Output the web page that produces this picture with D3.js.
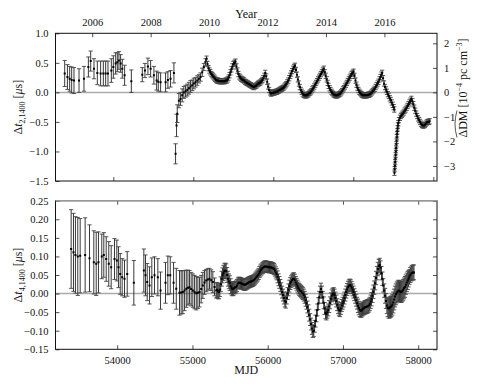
<!DOCTYPE html>
<html><head><meta charset="utf-8">
<script src="https://cdn.jsdelivr.net/npm/d3@7"></script>
<style>
body{margin:0;background:#fff;}
text{font-family:"Liberation Serif","DejaVu Serif",serif;fill:#111;}
</style></head><body>
<svg id="c" width="482" height="385"></svg>
<script>
// ---------- DATA ----------
// Top panel: Δt_{2,1400} [μs] — sparse early epochs (MJD, value, error)
const topMjd = [53392,53426,53454,53479,53508,53571,53633,53688,53717,53758,53800,53841,53875,53904,53933,53975,54000,54029,54050,54070,54091,54112,54141,54225,
54362,54395,54432,54466,54507,54541,54562,54591,54653,54682,54715,54757,54778,54790,54799,54819,54840,54861,54881,54903,54924,54945,54965,54986,55006,55028,55049,55070,55090,55111,55131,55152];
const topVal = [0.32,0.26,0.23,0.21,0.20,0.20,0.23,0.43,0.53,0.40,0.33,0.32,0.32,0.32,0.32,0.37,0.43,0.49,0.51,0.54,0.49,0.40,0.29,0.19,
0.30,0.37,0.44,0.40,0.29,0.20,0.18,0.17,0.17,0.21,0.23,0.33,-1.04,-0.56,-0.36,-0.14,-0.11,-0.05,0.00,0.02,0.04,0.07,0.10,0.12,0.15,0.17,0.20,0.23,0.26,0.34,0.43,0.51];
const topErr = [0.22,0.21,0.21,0.22,0.22,0.20,0.21,0.17,0.17,0.17,0.20,0.21,0.21,0.21,0.21,0.20,0.19,0.18,0.16,0.15,0.15,0.16,0.17,0.19,
0.12,0.12,0.14,0.14,0.15,0.16,0.16,0.16,0.16,0.14,0.14,0.17,0.17,0.19,0.15,0.12,0.11,0.11,0.10,0.10,0.10,0.10,0.10,0.09,0.09,0.08,0.08,0.07,0.07,0.07,0.06,0.06];
// Top panel: dense later epochs [MJD, value]
const topDense = [[55165,0.57],[55177,0.48],[55189,0.41],[55201,0.37],[55213,0.34],[55225,0.31],[55237,0.29],[55249,0.27],[55261,0.25],[55273,0.23],[55285,0.21],[55297,0.20],[55309,0.20],[55321,0.19],[55333,0.19],[55345,0.19],[55357,0.19],[55369,0.19],[55381,0.19],[55393,0.19],[55405,0.20],[55417,0.20],[55429,0.22],[55441,0.25],[55453,0.29],[55465,0.34],[55477,0.39],[55489,0.44],[55501,0.48],[55513,0.50],[55527,0.52],
[55539,0.44],[55551,0.37],[55563,0.31],[55575,0.27],[55587,0.25],[55599,0.23],[55611,0.22],[55623,0.21],[55635,0.20],[55647,0.18],[55659,0.17],[55671,0.16],[55683,0.15],[55695,0.14],[55707,0.13],[55719,0.12],[55731,0.11],[55743,0.10],[55755,0.09],[55767,0.10],[55779,0.11],[55791,0.12],[55803,0.14],[55815,0.15],[55827,0.16],[55839,0.17],[55851,0.19],[55863,0.21],[55875,0.24],[55887,0.28],[55899,0.33],
[55911,0.27],[55923,0.18],[55935,0.10],[55947,0.04],[55959,0.00],[55971,-0.02],[55983,-0.01],[55995,-0.01],[56007,0.00],[56019,0.00],[56031,0.01],[56043,0.01],[56055,0.02],[56067,0.03],[56079,0.04],[56091,0.05],[56103,0.06],[56115,0.07],[56127,0.08],[56139,0.10],[56151,0.12],[56163,0.14],[56175,0.17],[56187,0.20],[56199,0.24],[56211,0.28],[56223,0.32],[56235,0.36],[56247,0.40],[56259,0.43],[56271,0.45],
[56283,0.38],[56295,0.30],[56307,0.22],[56319,0.15],[56331,0.09],[56343,0.04],[56355,0.01],[56367,-0.02],[56379,-0.04],[56391,-0.05],[56403,-0.05],[56415,-0.05],[56427,-0.04],[56439,-0.03],[56451,-0.01],[56463,0.00],[56475,0.02],[56487,0.05],[56499,0.07],[56511,0.10],[56523,0.13],[56535,0.16],[56547,0.19],[56559,0.22],[56571,0.25],[56583,0.28],[56595,0.31],[56607,0.34],[56619,0.37],[56631,0.40],
[56643,0.34],[56655,0.28],[56667,0.22],[56679,0.16],[56691,0.11],[56703,0.07],[56715,0.04],[56727,0.01],[56739,-0.01],[56751,-0.03],[56763,-0.04],[56775,-0.05],[56787,-0.05],[56799,-0.05],[56811,-0.04],[56823,-0.03],[56835,-0.02],[56847,0.00],[56859,0.02],[56871,0.05],[56883,0.07],[56895,0.10],[56907,0.13],[56919,0.16],[56931,0.19],[56943,0.22],[56955,0.25],[56967,0.28],[56979,0.31],[56991,0.33],[57003,0.35],
[57015,0.28],[57027,0.20],[57039,0.13],[57051,0.08],[57063,0.04],[57075,0.01],[57087,-0.01],[57099,-0.03],[57111,-0.04],[57123,-0.05],[57135,-0.05],[57147,-0.05],[57159,-0.05],[57171,-0.05],[57183,-0.04],[57195,-0.04],[57207,-0.03],[57219,-0.02],[57231,0.00],[57243,0.02],[57255,0.04],[57267,0.06],[57279,0.09],[57291,0.12],[57303,0.15],[57315,0.18],[57327,0.22],[57339,0.26],[57351,0.30],[57360,0.33],
[57372,0.24],[57384,0.15],[57396,0.09],[57408,0.05],[57420,0.01],[57432,-0.03],[57444,-0.06],[57456,-0.10],[57468,-0.13],[57480,-0.17],[57492,-0.21],[57504,-0.25],[57512,-0.29],
[57514,-1.36],[57517,-1.30],[57520,-1.24],[57523,-1.18],[57526,-1.12],[57529,-1.06],[57532,-1.00],[57535,-0.94],[57538,-0.88],[57541,-0.82],[57544,-0.76],[57547,-0.71],[57550,-0.66],[57554,-0.61],[57558,-0.56],[57562,-0.52],[57570,-0.47],[57582,-0.43],[57594,-0.40],[57606,-0.38],[57618,-0.36],[57630,-0.34],[57642,-0.31],[57654,-0.29],[57666,-0.26],[57678,-0.23],[57690,-0.20],[57702,-0.17],[57714,-0.14],[57726,-0.11],
[57738,-0.15],[57750,-0.20],[57762,-0.26],[57774,-0.31],[57786,-0.36],[57798,-0.40],[57810,-0.44],[57822,-0.47],[57834,-0.50],[57846,-0.53],[57858,-0.55],[57870,-0.56],[57882,-0.56],[57894,-0.55],[57906,-0.53],[57918,-0.51],[57930,-0.50],[57942,-0.50],[57954,-0.49]];
const topDenseErr = 0.045;

// Bottom panel: Δt_{4,1400} [μs] — sparse early epochs
const botMjd = [53388,53419,53445,53476,53508,53574,53632,53689,53721,53751,53795,53822,53854,53888,53920,53964,53995,54017,54040,54066,54097,54133,54221,
54354,54376,54399,54430,54460,54496,54540,54576,54642,54673,54705,54749,54785,54828,54850,54872,54895,54918,54940,54961,54983,55005,55028,55051,55072,55094,55116,55138,55160,55183,55205,55227,55249,55271,55294];
const botVal = [0.120,0.111,0.104,0.100,0.102,0.104,0.095,0.084,0.080,0.084,0.100,0.104,0.093,0.080,0.071,0.093,0.089,0.071,0.053,0.044,0.040,0.053,0.029,
0.062,0.049,0.031,0.022,0.044,0.049,0.044,0.008,0.029,0.049,0.049,0.029,0.013,0.002,0.003,0.004,0.008,0.013,0.016,0.017,0.012,0.008,0.004,0.001,0.002,0.004,0.012,0.022,0.030,0.035,0.038,0.040,0.036,0.031,0.018];
const botErr = [0.106,0.105,0.103,0.105,0.100,0.100,0.090,0.085,0.085,0.082,0.060,0.060,0.060,0.060,0.058,0.055,0.055,0.055,0.055,0.050,0.050,0.060,0.060,
0.058,0.055,0.050,0.050,0.052,0.050,0.050,0.050,0.055,0.052,0.050,0.055,0.055,0.060,0.058,0.058,0.054,0.050,0.047,0.045,0.045,0.045,0.045,0.045,0.042,0.040,0.037,0.035,0.032,0.030,0.029,0.028,0.028,0.028,0.024];
// Bottom panel: dense later epochs [MJD, value, error]
const botDense = [[55316,0.008,0.02],[55328,0.010,0.02],[55340,0.006,0.02],[55352,0.004,0.018],[55364,0.010,0.018],[55376,0.025,0.02],[55388,0.040,0.02],[55400,0.049,0.02],[55412,0.055,0.02],[55424,0.060,0.02],[55436,0.062,0.02],[55448,0.060,0.02],[55460,0.050,0.02],[55472,0.040,0.02],[55484,0.033,0.02],[55496,0.028,0.02],[55508,0.020,0.02],[55520,0.014,0.018],[55532,0.012,0.018],[55544,0.013,0.018],[55556,0.015,0.016],[55568,0.017,0.016],[55580,0.018,0.016],[55592,0.022,0.016],[55604,0.027,0.015],[55616,0.029,0.015],[55628,0.029,0.015],[55640,0.028,0.015],[55652,0.027,0.015],[55664,0.026,0.015],[55676,0.025,0.015],[55688,0.024,0.015],[55700,0.024,0.015],[55712,0.025,0.015],[55724,0.027,0.015],[55736,0.028,0.015],[55748,0.030,0.015],[55760,0.031,0.015],[55772,0.032,0.015],[55784,0.033,0.015],[55796,0.034,0.015],[55808,0.035,0.015],[55820,0.037,0.015],[55832,0.040,0.015],[55844,0.043,0.015],[55856,0.046,0.015],[55868,0.049,0.015],[55880,0.053,0.015],[55892,0.058,0.015],[55904,0.062,0.015],[55916,0.065,0.015],[55928,0.068,0.015],[55940,0.070,0.015],[55952,0.072,0.015],[55964,0.073,0.015],[55976,0.073,0.015],[55988,0.072,0.015],[56000,0.072,0.015],[56012,0.071,0.015],[56024,0.071,0.015],[56036,0.071,0.015],[56048,0.070,0.015],[56060,0.069,0.015],[56072,0.068,0.015],[56084,0.066,0.015],[56096,0.062,0.015],[56108,0.057,0.015],[56120,0.052,0.015],
[56132,0.045,0.016],[56144,0.037,0.016],[56156,0.030,0.016],[56168,0.022,0.016],[56180,0.013,0.016],[56192,0.004,0.016],[56204,-0.004,0.016],[56216,-0.012,0.016],[56228,-0.020,0.016],[56240,-0.023,0.016],[56252,-0.012,0.016],[56264,0.000,0.016],[56276,0.010,0.016],[56288,0.020,0.016],[56300,0.027,0.016],[56312,0.032,0.016],[56324,0.036,0.016],[56336,0.039,0.016],[56348,0.040,0.016],[56360,0.036,0.016],[56372,0.030,0.016],[56384,0.025,0.016],[56396,0.020,0.016],[56408,0.015,0.016],[56420,0.011,0.016],[56432,0.008,0.016],[56444,0.006,0.016],[56456,0.003,0.016],[56468,0.000,0.016],[56480,-0.004,0.016],[56492,-0.010,0.016],[56504,-0.018,0.016],[56516,-0.026,0.016],[56528,-0.036,0.016],[56540,-0.046,0.016],[56552,-0.058,0.016],[56564,-0.070,0.016],[56576,-0.082,0.016],[56588,-0.094,0.016],[56600,-0.102,0.016],[56612,-0.100,0.016],[56624,-0.088,0.016],[56636,-0.074,0.016],[56648,-0.060,0.016],[56660,-0.044,0.016],[56672,-0.027,0.016],[56684,-0.010,0.016],[56696,0.004,0.016],[56708,0.012,0.016],[56720,0.004,0.016],[56732,-0.010,0.016],[56744,-0.025,0.016],[56756,-0.040,0.016],[56768,-0.052,0.016],[56780,-0.055,0.016],[56792,-0.050,0.016],[56804,-0.044,0.016],[56816,-0.035,0.016],[56828,-0.025,0.016],[56840,-0.014,0.016],[56852,-0.006,0.016],[56864,-0.002,0.016],[56876,0.000,0.016],[56888,-0.004,0.016],[56900,-0.012,0.016],[56912,-0.020,0.016],[56924,-0.030,0.016],[56936,-0.038,0.016],[56948,-0.044,0.016],[56960,-0.046,0.016],[56972,-0.040,0.016],[56984,-0.032,0.016],[56996,-0.026,0.016],[57008,-0.020,0.016],[57020,-0.012,0.016],[57032,-0.004,0.016],[57044,0.004,0.016],[57056,0.011,0.016],[57068,0.017,0.016],[57080,0.021,0.016],[57092,0.023,0.016],[57104,0.021,0.016],[57116,0.016,0.016],[57128,0.010,0.016],[57140,0.004,0.016],[57152,-0.003,0.016],[57164,-0.010,0.016],[57176,-0.018,0.016],[57188,-0.026,0.016],[57200,-0.033,0.018],[57212,-0.039,0.018],[57224,-0.044,0.018],[57236,-0.046,0.018],[57248,-0.045,0.018],[57260,-0.042,0.018],[57272,-0.040,0.018],[57284,-0.038,0.018],[57296,-0.037,0.018],[57308,-0.036,0.018],[57320,-0.035,0.018],[57332,-0.034,0.018],[57344,-0.032,0.018],[57356,-0.028,0.018],[57368,-0.022,0.018],[57380,-0.015,0.018],[57392,-0.006,0.018],[57404,0.005,0.018],[57416,0.016,0.018],[57428,0.028,0.018],[57440,0.042,0.018],[57452,0.055,0.018],[57464,0.066,0.018],[57476,0.074,0.018],[57488,0.077,0.018],[57500,0.070,0.018],[57512,0.055,0.018],[57524,0.040,0.018],[57536,0.022,0.018],[57548,0.008,0.018],[57560,-0.006,0.02],[57572,-0.020,0.02],[57584,-0.032,0.022],[57596,-0.038,0.024],[57608,-0.040,0.026],[57620,-0.038,0.028],[57632,-0.036,0.028],[57644,-0.034,0.028],[57656,-0.030,0.028],[57668,-0.024,0.028],[57680,-0.016,0.028],[57692,-0.008,0.028],[57704,-0.002,0.028],[57716,0.003,0.028],[57728,0.006,0.028],[57740,0.008,0.028],[57752,0.007,0.028],[57764,0.005,0.028],[57776,0.004,0.028],[57788,0.006,0.028],[57800,0.010,0.028],[57812,0.014,0.028],[57824,0.018,0.028],[57836,0.024,0.026],[57848,0.030,0.025],[57860,0.035,0.024],[57872,0.040,0.022],[57884,0.045,0.02],[57896,0.050,0.02],[57908,0.054,0.02],[57920,0.056,0.02],[57932,0.057,0.02],[57944,0.057,0.02]];

const topYTicks = [-1.5,-1.0,-0.5,0.0,0.5,1.0];
const dmTicks = [-3,-2,-1,0,1,2];
const yearTicks = [2006,2008,2010,2012,2014,2016];
const botYTicks = [-0.15,-0.10,-0.05,0.00,0.05,0.10,0.15,0.20,0.25];
const mjdTicks = [54000,55000,56000,57000,58000];
const dmPerUs = 2.41;

// ---------- LAYOUT ----------
const svg = d3.select("#c");
const L = 55.5, R = 437;
const pTop = {y0:33.3, y1:181};
const pBot = {y0:200.7, y1:349.3};
const mjdToYear = m => 2000 + (m - 51544.5)/365.25;

const xTop = d3.scaleLinear().domain([53277,58046]).range([L,R]);
const xYear = d3.scaleLinear().domain([mjdToYear(53277), mjdToYear(58046)]).range([L,R]);
const yTop = d3.scaleLinear().domain([-1.5,1.0]).range([pTop.y1, pTop.y0]);
const yDM = d3.scaleLinear().domain([-1.5*dmPerUs, 1.0*dmPerUs]).range([pTop.y1, pTop.y0]);
const xBot = d3.scaleLinear().domain([53180,58250]).range([L,R]);
const yBot = d3.scaleLinear().domain([-0.15,0.25]).range([pBot.y1, pBot.y0]);

const fmt1 = d => (d<0?"\u2212":"") + Math.abs(d).toFixed(1);
const fmt2 = d => (d<0?"\u2212":"") + Math.abs(d).toFixed(2);
const fmtI = d => (d<0?"\u2212":"") + Math.abs(d);

function styleAxis(g){
  g.attr("font-family", null).attr("font-size", null);
  g.select(".domain").remove();
  g.selectAll(".tick line").attr("stroke","#222").attr("stroke-width",0.8);
  g.selectAll(".tick text").attr("fill","#111").attr("font-family","Liberation Serif").style("font-family","'Liberation Serif', serif").style("font-size","10.5px");
}

function panel(p, xs, ys, data, name){
  const id = "clip"+name;
  svg.append("clipPath").attr("id",id).append("rect").attr("x",L).attr("y",p.y0).attr("width",R-L).attr("height",p.y1-p.y0);
  svg.append("line").attr("x1",L).attr("x2",R).attr("y1",ys(0)).attr("y2",ys(0)).attr("stroke","#aaa").attr("stroke-width",1.5);
  const g = svg.append("g").attr("clip-path",`url(#${id})`);
  const cw = 2.1;
  g.selectAll("line.eb").data(data).join("line").attr("class","eb")
    .attr("x1",d=>xs(d.m)).attr("x2",d=>xs(d.m)).attr("y1",d=>ys(d.v-d.e)).attr("y2",d=>ys(d.v+d.e))
    .attr("stroke","#222").attr("stroke-width",0.9);
  ["lo","hi"].forEach(k=>{
    g.selectAll("line.cap"+k).data(data).join("line").attr("class","cap"+k)
      .attr("x1",d=>xs(d.m)-cw).attr("x2",d=>xs(d.m)+cw)
      .attr("y1",d=>ys(k==="lo"?d.v-d.e:d.v+d.e)).attr("y2",d=>ys(k==="lo"?d.v-d.e:d.v+d.e))
      .attr("stroke","#444").attr("stroke-width",0.9);
  });
  g.selectAll("path.pt").data(data).join("path").attr("class","pt")
    .attr("transform",d=>`translate(${xs(d.m)},${ys(d.v)})`)
    .attr("d",d3.symbol(d3.symbolSquare, 4)()).attr("fill","#000");
}

const topData = topMjd.map((m,i)=>({m, v:topVal[i], e:topErr[i]}))
  .concat(topDense.map(d=>({m:d[0], v:d[1], e:topDenseErr})));
const botData = botMjd.map((m,i)=>({m, v:botVal[i], e:botErr[i]}))
  .concat(botDense.map(d=>({m:d[0], v:d[1], e:d[2]})));

panel(pTop, xTop, yTop, topData, "t");
panel(pBot, xBot, yBot, botData, "b");

const tl = 4;
let a;
a = svg.append("g").attr("transform",`translate(${L},0)`).call(d3.axisLeft(yTop).tickValues(topYTicks).tickFormat(fmt1).tickSizeInner(-tl).tickPadding(7)); styleAxis(a);
a = svg.append("g").attr("transform",`translate(${R},0)`).call(d3.axisRight(yDM).tickValues(dmTicks).tickFormat(fmtI).tickSizeInner(-tl).tickPadding(7)); styleAxis(a);
a = svg.append("g").attr("transform",`translate(0,${pTop.y0})`).call(d3.axisTop(xYear).tickValues(yearTicks).tickFormat(d3.format("d")).tickSizeInner(-tl).tickPadding(7)); styleAxis(a);
a = svg.append("g").attr("transform",`translate(0,${pTop.y1})`).call(d3.axisBottom(xTop).tickValues(mjdTicks).tickFormat("").tickSizeInner(-tl)); styleAxis(a);
svg.append("rect").attr("x",L).attr("y",pTop.y0).attr("width",R-L).attr("height",pTop.y1-pTop.y0).attr("fill","none").attr("stroke","#111").attr("stroke-width",1);

a = svg.append("g").attr("transform",`translate(${L},0)`).call(d3.axisLeft(yBot).tickValues(botYTicks).tickFormat(fmt2).tickSizeInner(-tl).tickPadding(7)); styleAxis(a);
a = svg.append("g").attr("transform",`translate(${R},0)`).call(d3.axisRight(yBot).tickValues(botYTicks).tickFormat("").tickSizeInner(-tl)); styleAxis(a);
a = svg.append("g").attr("transform",`translate(0,${pBot.y1})`).call(d3.axisBottom(xBot).tickValues(mjdTicks).tickFormat(d3.format("d")).tickSizeInner(-tl).tickPadding(7)); styleAxis(a);
a = svg.append("g").attr("transform",`translate(0,${pBot.y0})`).call(d3.axisTop(xBot).tickValues(mjdTicks).tickFormat("").tickSizeInner(-tl)); styleAxis(a);
svg.append("rect").attr("x",L).attr("y",pBot.y0).attr("width",R-L).attr("height",pBot.y1-pBot.y0).attr("fill","none").attr("stroke","#111").attr("stroke-width",1);
svg.append("line").attr("x1",L).attr("x2",R).attr("y1",pBot.y0).attr("y2",pBot.y0).attr("stroke","#999").attr("stroke-width",1.6);

svg.append("text").attr("x",(L+R)/2).attr("y",18).attr("text-anchor","middle").style("font-size","12px").text("Year");
svg.append("text").attr("x",(L+R)/2).attr("y",374).attr("text-anchor","middle").style("font-size","12px").text("MJD");

function ylab(x, y, sub){
  const t = svg.append("text").attr("transform",`translate(${x},${y}) rotate(-90)`).attr("text-anchor","middle").style("font-size","12px");
  t.append("tspan").text("\u0394");
  t.append("tspan").style("font-style","italic").text("t");
  t.append("tspan").attr("dy",3).style("font-size","8px").text(sub);
  t.append("tspan").attr("dy",-3).text(" [");
  t.append("tspan").style("font-style","italic").text("\u03bc");
  t.append("tspan").text("s]");
}
ylab(22, (pTop.y0+pTop.y1)/2, "2,1400");
ylab(22, (pBot.y0+pBot.y1)/2, "4,1400");

const rg = svg.append("g").attr("transform",`translate(467,88) rotate(-90)`);
const rt = rg.append("text").attr("text-anchor","middle").style("font-size","12px");
rt.append("tspan").text("\u0394DM [10");
rt.append("tspan").attr("dy",-5).style("font-size","8px").text("\u22124");
rt.append("tspan").attr("dy",5).text(" pc cm");
rt.append("tspan").attr("dy",-5).style("font-size","8px").text("\u22123");
rt.append("tspan").attr("dy",5).text("]");
try {
  const full = rt.node().getComputedTextLength();
  const w = rt.node().getSubStringLength(0,3);
  const x0 = -full/2, x1 = x0 + w;
  rg.append("path").attr("d",`M${x0},-10 Q${(x0+x1)/2},-14 ${x1},-10`).attr("fill","none").attr("stroke","#111").attr("stroke-width",0.7);
} catch(e) {}
</script>
</body></html>
